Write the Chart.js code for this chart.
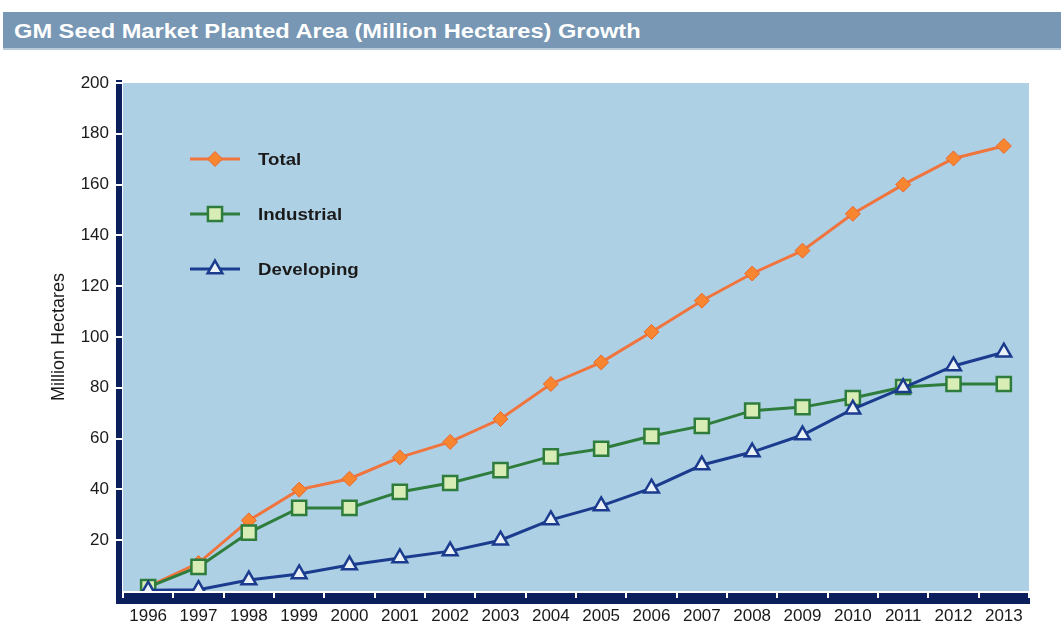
<!DOCTYPE html>
<html lang="en">
<head>
    <meta charset="UTF-8">
    <title>GM Seed Market Planted Area Growth</title>
    <style>
        body {
            margin: 0;
            background-color: #fff;
            font-family: 'Liberation Sans', Arial, sans-serif;
        }
        .header {
            position: absolute;
            left: 3px;
            top: 12px;
            width: 1058px;
            height: 38px;
            background-color: #7797b4;
            border-bottom: 2px solid #b9cad9;
            box-sizing: border-box;
        }
        .header span {
            position: absolute;
            left: 11px;
            top: 0;
            color: #fff;
            font-weight: bold;
            font-size: 21px;
            line-height: 37px;
            white-space: nowrap;
            transform: scaleX(1.125);
            transform-origin: left center;
        }
        .chart-box {
            position: absolute;
            left: 0;
            top: 0;
            width: 1061px;
            height: 628px;
        }
    </style>
</head>
<body>
    <div class="chart-box">
        <canvas id="areaChart"></canvas>
    </div>
    <div class="header"><span>GM Seed Market Planted Area (Million Hectares) Growth</span></div>

    <script src="https://cdn.jsdelivr.net/npm/chart.js"></script>
    <script>
        // Planted area, million hectares
        const years = ['1996', '1997', '1998', '1999', '2000', '2001', '2002', '2003', '2004',
                       '2005', '2006', '2007', '2008', '2009', '2010', '2011', '2012', '2013'];
        const totalArea = [1.7, 11, 27.8, 39.9, 44.2, 52.6, 58.7, 67.7, 81.5, 90, 102, 114.3, 125, 134, 148.5, 160, 170.3, 175.2];
        const industrialArea = [1.5, 9.5, 23, 32.7, 32.7, 39, 42.5, 47.6, 53, 56, 61, 65, 71, 72.4, 76, 80.3, 81.5, 81.5];
        const developingArea = [0.3, 0.5, 4.3, 6.7, 10.2, 13, 15.7, 20, 28, 33.5, 40.5, 49.6, 54.7, 61.4, 71.6, 80, 88.6, 94];
        const yTicks = [20, 40, 60, 80, 100, 120, 140, 160, 180, 200];

        const navy = '#0b1f5c';
        const plotBlue = '#aed0e4';
        const fontFamily = "'Liberation Sans', Arial, sans-serif";

        // light blue plot background plus the heavy navy axis bars with white notches
        const axisBars = {
            id: 'axisBars',
            beforeDatasetsDraw(chart) {
                const { ctx, chartArea: a, scales: { x, y } } = chart;
                ctx.save();
                ctx.fillStyle = plotBlue;
                ctx.fillRect(a.left, a.top, a.right - a.left, a.bottom - a.top);

                ctx.fillStyle = navy;
                ctx.fillRect(a.left - 7, a.top - 3, 6, a.bottom - a.top + 16);
                ctx.fillRect(a.left - 7, a.bottom + 2, a.right - a.left + 8, 11);

                ctx.fillStyle = '#fff';
                yTicks.forEach(v => {
                    const py = Math.round(y.getPixelForValue(v));
                    ctx.fillRect(a.left - 9, py - 1, 9, 2);
                });
                for (let i = 0; i <= years.length; i++) {
                    const px = Math.round(x.getPixelForValue(i - 0.5));
                    ctx.fillRect(px - 1, a.bottom + 2, 2, 5);
                }
                ctx.restore();
            }
        };

        // legend drawn inside the plot, top left
        const innerLegend = {
            id: 'innerLegend',
            afterDatasetsDraw(chart) {
                const { ctx } = chart;
                const rows = [159, 214, 269];
                ctx.save();
                chart.data.datasets.forEach((ds, i) => {
                    const yy = rows[i];
                    ctx.strokeStyle = ds.borderColor;
                    ctx.lineWidth = ds.borderWidth;
                    ctx.beginPath();
                    ctx.moveTo(190, yy);
                    ctx.lineTo(240, yy);
                    ctx.stroke();
                    ctx.fillStyle = ds.pointBackgroundColor;
                    ctx.strokeStyle = ds.pointBorderColor;
                    ctx.lineWidth = ds.pointBorderWidth;
                    Chart.helpers.drawPoint(ctx, {
                        pointStyle: ds.pointStyle,
                        radius: ds.pointRadius,
                        borderWidth: ds.pointBorderWidth
                    }, 215, yy);
                    ctx.fillStyle = '#1a1a1a';
                    ctx.font = 'bold 17px ' + fontFamily;
                    ctx.textBaseline = 'middle';
                    ctx.save();
                    ctx.translate(258, yy + 1);
                    ctx.scale(1.1, 1);
                    ctx.fillText(ds.label, 0, 0);
                    ctx.restore();
                });
                ctx.restore();
            }
        };

        const ctx = document.getElementById('areaChart').getContext('2d');
        new Chart(ctx, {
            type: 'line',
            data: {
                labels: years,
                datasets: [{
                    label: 'Total',
                    data: totalArea,
                    order: 3,
                    borderColor: '#f0743e',
                    borderWidth: 3,
                    pointStyle: 'rectRot',
                    pointRadius: 7.5,
                    pointBackgroundColor: '#f88530',
                    pointBorderColor: '#e9692e',
                    pointBorderWidth: 1
                }, {
                    label: 'Industrial',
                    data: industrialArea,
                    order: 2,
                    borderColor: '#2f7d3c',
                    borderWidth: 3,
                    pointStyle: 'rect',
                    pointRadius: 10,
                    pointBackgroundColor: '#d8ecb6',
                    pointBorderColor: '#2f7d3c',
                    pointBorderWidth: 2.5
                }, {
                    label: 'Developing',
                    data: developingArea,
                    order: 1,
                    borderColor: '#1b3c8e',
                    borderWidth: 3,
                    pointStyle: 'triangle',
                    pointRadius: 8.5,
                    pointBackgroundColor: '#eaf2f8',
                    pointBorderColor: '#1b3c8e',
                    pointBorderWidth: 2.5
                }]
            },
            options: {
                responsive: true,
                maintainAspectRatio: false,
                animation: false,
                layout: { padding: { left: 0, right: 32, top: 83, bottom: 0 } },
                plugins: {
                    legend: { display: false },
                    tooltip: { enabled: false }
                },
                elements: { line: { tension: 0 } },
                scales: {
                    x: {
                        offset: true,
                        grid: { display: false, drawTicks: false },
                        border: { display: false },
                        ticks: {
                            color: '#1a1a1a',
                            font: { size: 17, family: fontFamily },
                            padding: 15,
                            maxRotation: 0,
                            autoSkip: false
                        },
                        afterFit(scale) { scale.height = 37; }
                    },
                    y: {
                        min: 0,
                        max: 200,
                        grid: { display: false, drawTicks: false },
                        border: { display: false },
                        ticks: {
                            stepSize: 20,
                            color: '#1a1a1a',
                            font: { size: 17, family: fontFamily },
                            padding: 14,
                            callback: v => (yTicks.includes(v) ? v : '')
                        },
                        title: {
                            display: true,
                            text: 'Million Hectares',
                            color: '#1a1a1a',
                            font: { size: 18, family: fontFamily },
                            padding: { top: 48, bottom: 0 }
                        },
                        afterFit(scale) { scale.width = 123; }
                    }
                }
            },
            plugins: [axisBars, innerLegend]
        });
    </script>
</body>
</html>
